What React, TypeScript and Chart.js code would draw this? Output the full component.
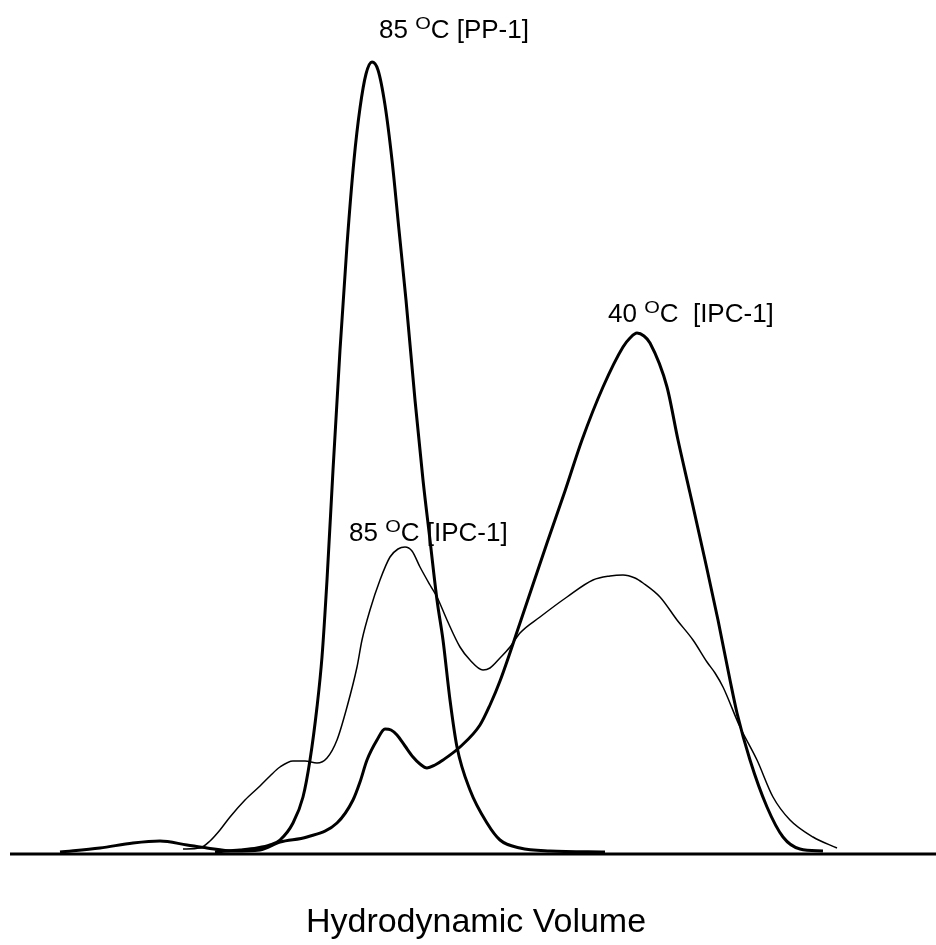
import React, { useEffect, useRef } from "react";
import { Chart, registerables } from "chart.js";

Chart.register(...registerables);

// Curve data (x = hydrodynamic volume, arbitrary units; y = detector response, arbitrary units)
const pp85X = [215, 240, 257, 270, 280, 293, 303, 310, 317, 322, 327, 333, 340, 347, 354, 360, 366, 372, 378, 385, 392, 399, 406, 415, 423, 430, 437, 443, 450, 457, 470, 487, 500, 520, 550, 605];
const pp85Y = [1, 3, 5, 8, 13, 30, 56, 93, 146, 196, 273, 383, 503, 608, 693, 745, 779, 791, 783, 748, 693, 623, 553, 453, 373, 313, 253, 213, 153, 106, 63, 30, 13, 5, 2, 1];

const ipc40X = [60, 100, 133, 160, 187, 207, 233, 260, 280, 307, 337, 353, 360, 367, 377, 385, 391, 397, 405, 413, 420, 427, 435, 443, 460, 480, 490, 500, 520, 547, 565, 582, 603, 623, 630, 637, 644, 650, 667, 678, 690, 705, 718, 730, 737, 750, 767, 783, 800, 823];
const ipc40Y = [1, 5, 10, 12, 8, 5, 2, 3, 11, 16, 30, 53, 71, 93, 113, 124, 123, 118, 107, 96, 89, 85, 88, 93, 106, 128, 148, 172, 230, 310, 362, 413, 466, 506, 515, 520, 517, 510, 466, 413, 360, 293, 233, 173, 140, 93, 46, 16, 4, 2];

const ipc85X = [183, 200, 210, 220, 230, 245, 260, 270, 280, 293, 305, 317, 327, 337, 347, 357, 362, 370, 380, 390, 398, 405, 412, 420, 430, 437, 447, 460, 470, 483, 490, 500, 510, 520, 540, 567, 593, 610, 623, 635, 643, 660, 677, 693, 707, 715, 723, 740, 757, 773, 790, 813, 837];
const ipc85Y = [4, 5, 12, 23, 36, 53, 67, 77, 86, 92, 92, 90, 95, 113, 146, 186, 213, 243, 273, 296, 304, 306, 302, 286, 268, 256, 233, 206, 193, 183, 185, 195, 206, 220, 236, 256, 273, 277, 278, 275, 270, 256, 233, 213, 191, 180, 166, 126, 93, 56, 33, 16, 5];

// Annotation labels: value before superscript, superscript, remainder; anchored at data positions
const labelPre = ["85 ", "40 ", "85 "];
const labelSup = ["O", "O", "O"];
const labelPost = ["C [PP-1]", "C  [IPC-1]", "C [IPC-1]"];
const labelX = [379, 608, 349];
const labelY = [815, 531, 312];

const axisTitle = "Hydrodynamic Volume";

const xMin = 10;
const xMax = 936;
const yMin = 0;
const yMax = 853;

const toPoints = (xs: number[], ys: number[]) => xs.map((x, i) => ({ x, y: ys[i] }));

const FONT = "'Liberation Sans', Arial, Helvetica, sans-serif";

const decorPlugin = {
  id: "decor",
  beforeDatasetsDraw(chart: any) {
    const { ctx, chartArea } = chart;
    ctx.save();
    ctx.fillStyle = "#000";
    ctx.fillRect(chartArea.left, chartArea.bottom - 0.5, chartArea.right - chartArea.left, 3);
    ctx.restore();
  },
  afterDatasetsDraw(chart: any) {
    const { ctx, chartArea, scales } = chart;
    ctx.save();
    ctx.fillStyle = "#000";
    ctx.textBaseline = "alphabetic";
    ctx.textAlign = "left";
    for (let i = 0; i < labelPre.length; i++) {
      let px = scales.x.getPixelForValue(labelX[i]);
      const py = scales.y.getPixelForValue(labelY[i]);
      ctx.font = `26px ${FONT}`;
      ctx.fillText(labelPre[i], px, py);
      px += ctx.measureText(labelPre[i]).width;
      ctx.font = `16px ${FONT}`;
      ctx.save();
      ctx.translate(px, py - 9);
      ctx.scale(1.25, 1);
      ctx.fillText(labelSup[i], 0, 0);
      ctx.restore();
      px += ctx.measureText(labelSup[i]).width * 1.25;
      ctx.font = `26px ${FONT}`;
      ctx.fillText(labelPost[i], px, py);
    }
    ctx.font = `34px ${FONT}`;
    ctx.textAlign = "center";
    ctx.fillText(axisTitle, (chartArea.left + chartArea.right) / 2 + 3, chartArea.bottom + 79);
    ctx.restore();
  },
};

export default function App() {
  const ref = useRef<HTMLCanvasElement | null>(null);

  useEffect(() => {
    if (!ref.current) return;
    const chart = new Chart(ref.current, {
      type: "line",
      data: {
        datasets: [
          {
            label: "85 °C [PP-1]",
            data: toPoints(pp85X, pp85Y),
            borderColor: "#000",
            borderWidth: 3,
            pointRadius: 0,
            cubicInterpolationMode: "monotone",
            fill: false,
          },
          {
            label: "40 °C [IPC-1]",
            data: toPoints(ipc40X, ipc40Y),
            borderColor: "#000",
            borderWidth: 3,
            pointRadius: 0,
            cubicInterpolationMode: "monotone",
            fill: false,
          },
          {
            label: "85 °C [IPC-1]",
            data: toPoints(ipc85X, ipc85Y),
            borderColor: "#000",
            borderWidth: 1.5,
            pointRadius: 0,
            cubicInterpolationMode: "monotone",
            fill: false,
          },
        ],
      },
      options: {
        responsive: false,
        animation: false,
        parsing: true,
        layout: { padding: { left: 10, right: 0, top: 0, bottom: 92 } },
        plugins: {
          legend: { display: false },
          tooltip: { enabled: false },
          title: { display: false },
        },
        scales: {
          x: { type: "linear", min: xMin, max: xMax, display: false },
          y: { type: "linear", min: yMin, max: yMax, display: false },
        },
      },
      plugins: [decorPlugin],
    });
    return () => chart.destroy();
  }, []);

  return (
    <div style={{ position: "absolute", left: 0, top: 0, width: 936, height: 945, background: "#fff" }}>
      <canvas ref={ref} width={936} height={945} style={{ display: "block", width: 936, height: 945 }} />
    </div>
  );
}
